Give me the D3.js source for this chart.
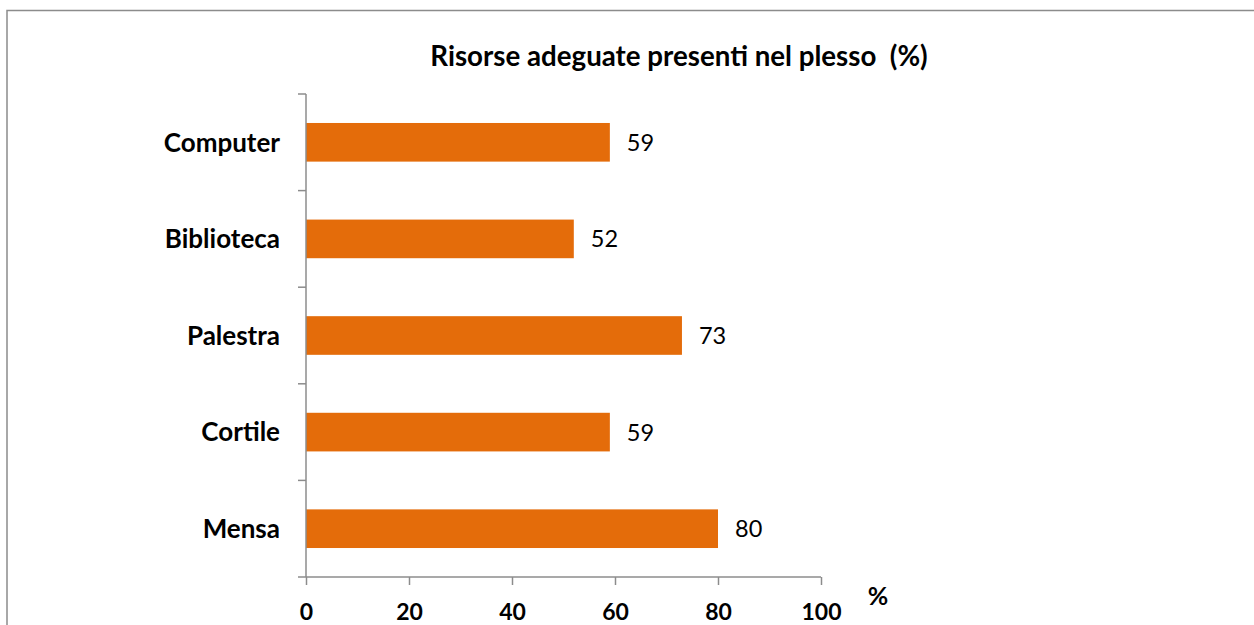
<!DOCTYPE html>
<html><head><meta charset="utf-8">
<script src="https://cdn.jsdelivr.net/npm/d3@7"></script>
<style>body{margin:0;background:#fff}svg{display:block}</style>
</head><body>
<script>
const categories = ["Computer", "Biblioteca", "Palestra", "Cortile", "Mensa"];
const values = [59, 52, 73, 59, 80];
const xTicks = [0, 20, 40, 60, 80, 100];
const title = "Risorse adeguate presenti nel plesso  (%)";
const axisUnit = "%";

const W = 1254, H = 625;
const font = "Lato, 'Open Sans', sans-serif";
const svg = d3.select("body").append("svg").attr("width", W).attr("height", H);

svg.append("rect").attr("x", 7).attr("y", 10.5).attr("width", 1300).attr("height", 700)
  .attr("fill", "#fff").attr("stroke", "#8c8c8c").attr("stroke-width", 1.5);

const x = d3.scaleLinear().domain([0, 100]).range([306, 821]);
const y = d3.scaleBand().domain(categories).range([94, 577]).paddingInner(0.6).paddingOuter(0.3);

svg.append("text").attr("x", 679).attr("y", 66).attr("text-anchor", "middle")
  .style("white-space", "pre")
  .attr("font-family", font).attr("font-weight", "bold").attr("font-size", 27.7)
  .attr("fill", "#000").text(title);

svg.selectAll("rect.bar").data(values).join("rect").attr("class", "bar")
  .attr("x", x(0)).attr("y", (d, i) => y(categories[i]))
  .attr("width", d => x(d) - x(0)).attr("height", y.bandwidth())
  .attr("fill", "#E46C0A");

svg.selectAll("text.val").data(values).join("text").attr("class", "val")
  .attr("x", d => x(d) + 17).attr("y", (d, i) => y(categories[i]) + y.bandwidth() / 2)
  .attr("dy", "0.36em").attr("font-family", font).attr("font-size", 23.5).attr("fill", "#000")
  .text(d => d);

// x axis
const xAxis = d3.axisBottom(x).tickValues(xTicks).tickSize(8).tickPadding(18.5).tickFormat(d3.format("d"));
const gx = svg.append("g").attr("transform", "translate(0,577)").call(xAxis);
gx.select(".domain").attr("stroke", "#8c8c8c").attr("stroke-width", 1.5).attr("d", "M306,0H821");
gx.selectAll(".tick line").attr("stroke", "#8c8c8c").attr("stroke-width", 1.5);
gx.selectAll(".tick text").attr("font-family", font).attr("font-weight", "bold").attr("font-size", 23).attr("fill", "#000");

// y axis with boundary ticks
const step = (577 - 94) / categories.length;
const gy = svg.append("g");
gy.append("line").attr("x1", 306).attr("x2", 306).attr("y1", 94).attr("y2", 577)
  .attr("stroke", "#8c8c8c").attr("stroke-width", 1.5);
gy.selectAll("line.b").data(d3.range(categories.length + 1)).join("line").attr("class", "b")
  .attr("x1", 298).attr("x2", 306).attr("y1", i => 94 + i * step).attr("y2", i => 94 + i * step)
  .attr("stroke", "#8c8c8c").attr("stroke-width", 1.5);
gy.selectAll("text").data(categories).join("text")
  .attr("x", 280).attr("y", d => y(d) + y.bandwidth() / 2).attr("dy", "0.36em")
  .attr("text-anchor", "end").attr("font-family", font).attr("font-weight", "bold")
  .attr("font-size", 26).attr("fill", "#000").text(d => d);

svg.append("text").attr("x", 878).attr("y", 605).attr("text-anchor", "middle")
  .attr("font-family", font).attr("font-weight", "bold").attr("font-size", 25).attr("fill", "#000")
  .text(axisUnit);
</script>
</body></html>
